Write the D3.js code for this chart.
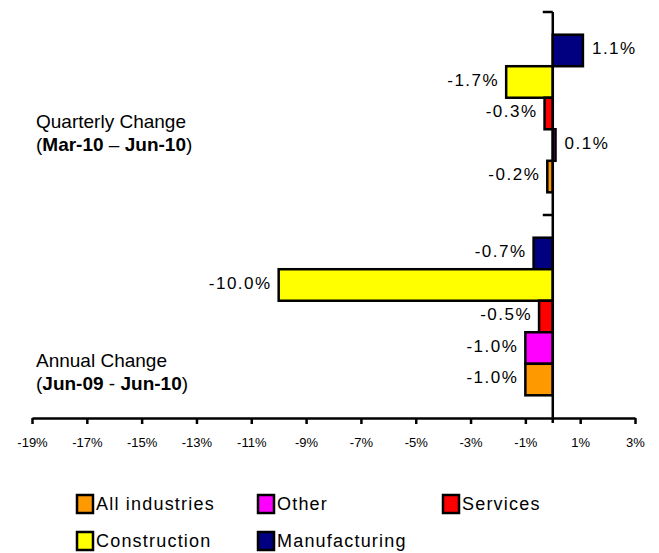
<!DOCTYPE html>
<html>
<head>
<meta charset="utf-8">
<script src="https://cdn.jsdelivr.net/npm/d3@7"></script>
<style>
  body { margin: 0; background: #fff; }
  svg text { font-family: "Liberation Sans", Arial, sans-serif; fill: #000; }
</style>
</head>
<body>
<svg id="chart"></svg>
<script>
// chart values
var groups = ["Quarterly", "Annual"];
var series = ["Manufacturing", "Construction", "Services", "Other", "All industries"];
var quarterly = [1.1, -1.7, -0.3, 0.1, -0.2];
var annual = [-0.7, -10.0, -0.5, -1.0, -1.0];
var colors = ["#000080", "#FFFF00", "#FF0000", "#FF00FF", "#FF9900"];
var tickValues = [-19, -17, -15, -13, -11, -9, -7, -5, -3, -1, 1, 3];
var legendOrder = ["All industries", "Other", "Services", "Construction", "Manufacturing"];

var width = 659,
    height = 553;

var svg = d3.select("#chart")
    .attr("width", width)
    .attr("height", height);

var x = d3.scaleLinear()
    .domain([-19, 3])
    .range([32, 635]);

var y = d3.scaleBand()
    .domain(groups)
    .range([12, 418]);

var yInner = d3.scaleBand()
    .domain(series)
    .range([0, y.bandwidth()])
    .paddingOuter(0.72);

var color = d3.scaleOrdinal()
    .domain(series)
    .range(colors);

// plain hyphen for negatives, like the original
var fmt = function(v) { return (v < 0 ? "-" : "") + Math.abs(v).toFixed(1) + "%"; };

var rows = [];
series.forEach(function(s, i) {
  rows.push({group: "Quarterly", key: s, value: quarterly[i]});
  rows.push({group: "Annual", key: s, value: annual[i]});
});

// bars
svg.selectAll(".bar")
  .data(rows)
  .enter()
  .append("rect")
    .attr("class", "bar")
    .attr("x", function(d) { return x(Math.min(0, d.value)); })
    .attr("y", function(d) { return y(d.group) + yInner(d.key); })
    .attr("width", function(d) { return Math.abs(x(d.value) - x(0)); })
    .attr("height", yInner.bandwidth())
    .attr("fill", function(d) { return color(d.key); })
    .attr("stroke", "#000")
    .attr("stroke-width", 2.5);

// value labels
svg.selectAll(".vlabel")
  .data(rows)
  .enter()
  .append("text")
    .attr("class", "vlabel")
    .attr("x", function(d) { return d.value < 0 ? x(d.value) - 7 : x(d.value) + 9; })
    .attr("y", function(d) { return y(d.group) + yInner(d.key) + yInner.bandwidth() / 2 - 2; })
    .attr("dy", "0.35em")
    .attr("text-anchor", function(d) { return d.value < 0 ? "end" : "start"; })
    .style("font-size", "17px")
    .style("letter-spacing", "1.5px")
    .text(function(d) { return fmt(d.value); });

// x axis
var xAxis = svg.append("g")
    .attr("transform", "translate(0," + y.range()[1] + ")")
    .call(d3.axisBottom(x)
      .tickValues(tickValues)
      .tickSize(6)
      .tickSizeOuter(0)
      .tickPadding(14)
      .tickFormat(function(d) { return d + "%"; }));
xAxis.select(".domain").attr("stroke-width", 2.5);
xAxis.selectAll(".tick line").attr("stroke-width", 2.5);
xAxis.selectAll(".tick text")
    .style("font-size", "13px")
    .style("font-family", "Liberation Sans, Arial, sans-serif");

// category axis at zero
svg.append("line")
    .attr("x1", x(0)).attr("x2", x(0))
    .attr("y1", y.range()[0]).attr("y2", y.range()[1] + 5)
    .attr("stroke", "#000")
    .attr("stroke-width", 2.5);
svg.selectAll(".ytick")
  .data(groups)
  .enter()
  .append("line")
    .attr("x1", x(0) - 10).attr("x2", x(0))
    .attr("y1", function(d) { return y(d); })
    .attr("y2", function(d) { return y(d); })
    .attr("stroke", "#000")
    .attr("stroke-width", 2.5);

// group titles
var titles = [
  {y: 128, main: "Quarterly Change", a: "Mar-10", sep: " – ", b: "Jun-10"},
  {y: 367, main: "Annual Change", a: "Jun-09", sep: " - ", b: "Jun-10"}
];
titles.forEach(function(t) {
  svg.append("text")
    .attr("x", 36).attr("y", t.y)
    .style("font-size", "19px")
    .text(t.main);
  var sub = svg.append("text")
    .attr("x", 36).attr("y", t.y + 23)
    .style("font-size", "19px");
  sub.append("tspan").text("(");
  sub.append("tspan").style("font-weight", "bold").text(t.a);
  sub.append("tspan").text(t.sep);
  sub.append("tspan").style("font-weight", "bold").text(t.b);
  sub.append("tspan").text(")");
});

// legend
var legendX = [77, 258, 443];
var legend = svg.selectAll(".legend")
  .data(legendOrder)
  .enter()
  .append("g")
    .attr("class", "legend")
    .attr("transform", function(d, i) {
      return "translate(" + legendX[i % 3] + "," + (495 + Math.floor(i / 3) * 37) + ")";
    });
legend.append("rect")
    .attr("width", 16)
    .attr("height", 18)
    .attr("fill", function(d) { return color(d); })
    .attr("stroke", "#000")
    .attr("stroke-width", 2.5);
legend.append("text")
    .attr("x", 19)
    .attr("y", 9)
    .attr("dy", "0.35em")
    .style("font-size", "18px")
    .style("letter-spacing", "1.2px")
    .text(function(d) { return d; });
</script>
</body>
</html>
